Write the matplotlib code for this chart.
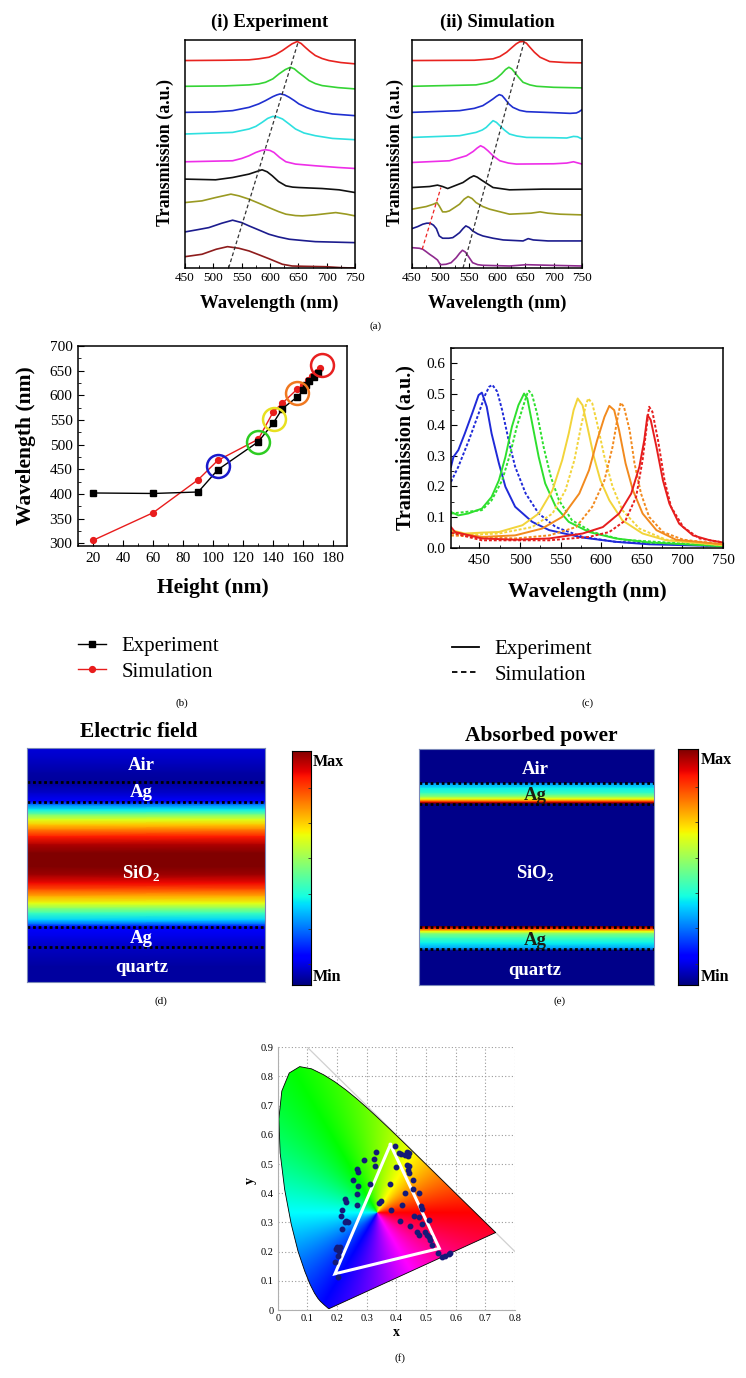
import numpy as np
import matplotlib
matplotlib.use("Agg")
import matplotlib.pyplot as plt
from matplotlib.lines import Line2D
from matplotlib.patches import Polygon
from matplotlib.colors import hsv_to_rgb
from matplotlib.ticker import MultipleLocator

plt.rcParams['font.family'] = ['Liberation Serif', 'DejaVu Serif']
plt.rcParams['mathtext.fontset'] = 'custom'
plt.rcParams['mathtext.rm'] = 'Liberation Serif'
plt.rcParams['mathtext.bf'] = 'Liberation Serif:bold'

W, H = 746, 1378

# ----------------- (a)(i) experiment spectra (stacked, a.u.) -----------------
exp_red_wl = [450, 520, 563, 580, 598, 610, 622, 632, 639, 648, 655, 662, 670, 680, 692, 704, 725, 750]
exp_red_t = [20.7, 20.73, 20.77, 20.87, 21.03, 21.3, 21.7, 22.1, 22.37, 22.6, 22.4, 22.03, 21.63, 21.2, 20.9, 20.7, 20.5, 20.37]
exp_green_wl = [450, 520, 563, 580, 592, 605, 616, 627, 636, 643, 650, 660, 669, 680, 692, 720, 750]
exp_green_t = [18.13, 18.17, 18.27, 18.37, 18.53, 18.87, 19.37, 19.8, 20.03, 19.87, 19.53, 19.1, 18.7, 18.4, 18.2, 18.0, 17.87]
exp_blue_wl = [450, 500, 534, 563, 580, 592, 605, 612, 618, 626, 634, 643, 651, 665, 680, 710, 750]
exp_blue_t = [15.53, 15.57, 15.7, 16.03, 16.37, 16.7, 17.1, 17.27, 17.37, 17.27, 17.03, 16.7, 16.37, 16.0, 15.7, 15.37, 15.2]
exp_cyan_wl = [450, 534, 563, 575, 586, 596, 605, 613, 622, 633, 645, 660, 680, 710, 750]
exp_cyan_t = [13.37, 13.53, 13.87, 14.13, 14.53, 14.93, 15.13, 15.07, 14.87, 14.4, 13.87, 13.47, 13.2, 12.93, 12.8]
exp_magenta_wl = [450, 534, 550, 563, 575, 585, 592, 600, 607, 617, 628, 645, 680, 720, 750]
exp_magenta_t = [10.6, 10.7, 10.93, 11.2, 11.53, 11.73, 11.8, 11.73, 11.53, 11.03, 10.6, 10.37, 10.2, 10.03, 9.93]
exp_black_wl = [450, 504, 534, 563, 575, 586, 595, 604, 615, 628, 640, 651, 692, 722, 750]
exp_black_t = [8.87, 8.8, 9.03, 9.37, 9.6, 9.8, 9.6, 9.2, 8.63, 8.2, 8.07, 8.03, 7.93, 7.8, 7.53]
exp_olive_wl = [450, 480, 504, 531, 545, 563, 580, 598, 615, 628, 645, 657, 680, 700, 716, 735, 750]
exp_olive_t = [6.53, 6.7, 7.03, 7.37, 7.2, 6.87, 6.47, 6.03, 5.63, 5.37, 5.23, 5.2, 5.3, 5.43, 5.53, 5.37, 5.2]
exp_navy_wl = [450, 470, 492, 515, 534, 550, 563, 580, 598, 615, 634, 660, 680, 750]
exp_navy_t = [3.6, 3.8, 4.03, 4.47, 4.77, 4.53, 4.2, 3.8, 3.37, 3.1, 2.87, 2.73, 2.63, 2.53]
exp_maroon_wl = [450, 480, 505, 525, 545, 563, 580, 598, 622, 639, 660, 698, 727, 750]
exp_maroon_t = [1.13, 1.37, 1.87, 2.13, 1.97, 1.7, 1.33, 0.93, 0.37, 0.2, 0.17, 0.13, 0.03, 0.0]
exp_guide_wl = [527, 650]
exp_guide_t = [0.0, 22.6]

# ----------------- (a)(ii) simulated spectra -----------------
sim_red_wl = [450, 560, 593, 605, 617, 627, 634, 640, 646, 652, 658, 666, 676, 693, 720, 750]
sim_red_t = [20.7, 20.73, 20.87, 21.1, 21.53, 22.03, 22.37, 22.57, 22.6, 22.43, 22.03, 21.53, 21.03, 20.6, 20.5, 20.47]
sim_green_wl = [450, 563, 582, 593, 600, 608, 615, 621, 626, 631, 638, 646, 658, 670, 700, 750]
sim_green_t = [18.13, 18.27, 18.47, 18.7, 18.97, 19.37, 19.8, 20.03, 19.87, 19.53, 19.03, 18.53, 18.27, 18.13, 18.03, 17.97]
sim_blue_wl = [450, 534, 560, 575, 586, 593, 599, 604, 609, 614, 621, 628, 640, 652, 700, 729, 740, 745, 750]
sim_blue_t = [15.53, 15.7, 15.93, 16.2, 16.6, 16.87, 17.13, 17.3, 17.2, 16.87, 16.37, 16.03, 15.73, 15.6, 15.5, 15.43, 15.47, 15.6, 15.8]
sim_cyan_wl = [450, 534, 563, 574, 581, 587, 593, 599, 605, 613, 622, 635, 652, 700, 723, 735, 742, 750]
sim_cyan_t = [13.03, 13.2, 13.53, 13.77, 14.03, 14.37, 14.7, 14.53, 14.2, 13.77, 13.37, 13.17, 13.03, 13.0, 12.97, 13.13, 13.1, 12.87]
sim_magenta_wl = [450, 516, 546, 558, 565, 571, 577, 584, 593, 605, 620, 634, 700, 723, 735, 750]
sim_magenta_t = [10.53, 10.7, 11.2, 11.63, 11.97, 12.2, 12.03, 11.7, 11.2, 10.7, 10.47, 10.37, 10.4, 10.47, 10.6, 10.37]
sim_black_wl = [450, 481, 495, 504, 513, 522, 540, 552, 559, 565, 572, 582, 593, 622, 681, 750]
sim_black_t = [8.03, 8.13, 8.27, 8.13, 7.93, 8.13, 8.53, 9.0, 9.2, 9.07, 8.8, 8.43, 8.03, 7.8, 7.87, 7.87]
sim_olive_wl = [450, 475, 488, 494, 498, 504, 510, 516, 525, 534, 542, 549, 556, 563, 575, 587, 622, 660, 676, 690, 711, 750]
sim_olive_t = [5.87, 6.13, 6.37, 6.53, 6.2, 5.6, 5.6, 5.7, 6.03, 6.37, 6.87, 7.13, 6.93, 6.53, 6.13, 5.87, 5.37, 5.47, 5.6, 5.47, 5.37, 5.3]
sim_navy_wl = [450, 460, 469, 476, 482, 488, 493, 498, 504, 515, 522, 528, 534, 540, 545, 551, 557, 566, 575, 593, 611, 646, 655, 664, 690, 750]
sim_navy_t = [3.93, 4.13, 4.37, 4.47, 4.47, 4.27, 3.93, 3.2, 2.97, 2.97, 3.03, 3.27, 3.53, 3.93, 4.2, 4.03, 3.7, 3.4, 3.2, 2.97, 2.8, 2.7, 2.93, 2.8, 2.7, 2.7]
sim_purple_wl = [450, 463, 469, 475, 481, 488, 495, 500, 510, 519, 528, 534, 539, 544, 549, 557, 566, 575, 622, 652, 693, 750]
sim_purple_t = [2.03, 1.97, 1.87, 1.63, 1.37, 1.1, 0.8, 0.33, 0.37, 0.53, 1.03, 1.47, 1.77, 1.6, 1.2, 0.53, 0.33, 0.27, 0.2, 0.33, 0.27, 0.2]
sim_guide_wl = [540, 648]
sim_guide_t = [0.0, 22.6]
sim_guide2_wl = [468, 501]
sim_guide2_t = [1.87, 8.03]

# ----------------- (b) peak wavelength vs height -----------------
height_exp = [20, 60, 90, 103, 130, 140, 146, 156, 160, 162, 164, 167, 170]
peak_exp = [402, 401, 404, 449, 506, 544, 573, 597, 610, 621, 630, 638, 645]
height_sim = [20, 60, 90, 103, 130, 140, 146, 156, 160, 163, 166, 169, 171]
peak_sim = [306, 362, 429, 468, 511, 567, 584, 613, 621, 631, 639, 648, 655]
circle_h = [103, 129.5, 140.5, 156, 172.5]
circle_wl = [456, 506, 552, 604, 662]
circle_colors = ['#1a1acc', '#2ecc22', '#e8e020', '#f07820', '#e82020']

# ----------------- (c) selected spectra -----------------
c_blue_exp_wl = [415, 418, 424, 432, 441, 449, 453, 459, 465, 474, 482, 494, 515, 536, 577, 618, 659, 750]
c_blue_exp_t = [0.264, 0.296, 0.318, 0.372, 0.437, 0.497, 0.505, 0.459, 0.372, 0.275, 0.199, 0.134, 0.085, 0.058, 0.034, 0.02, 0.012, 0.006]
c_blue_sim_wl = [415, 424, 437, 449, 457, 462, 466, 472, 478, 486, 494, 507, 523, 544, 577, 618, 750]
c_blue_sim_t = [0.215, 0.264, 0.35, 0.437, 0.497, 0.524, 0.53, 0.508, 0.448, 0.35, 0.264, 0.177, 0.112, 0.068, 0.036, 0.02, 0.006]
c_green_exp_wl = [415, 424, 436, 453, 465, 474, 482, 490, 498, 505, 509, 515, 523, 531, 544, 560, 585, 618, 659, 750]
c_green_exp_t = [0.117, 0.106, 0.112, 0.128, 0.166, 0.22, 0.296, 0.394, 0.464, 0.502, 0.486, 0.405, 0.296, 0.21, 0.134, 0.085, 0.052, 0.031, 0.018, 0.006]
c_green_sim_wl = [415, 453, 465, 478, 488, 496, 505, 509, 511, 515, 521, 529, 538, 548, 564, 589, 626, 750]
c_green_sim_t = [0.112, 0.123, 0.155, 0.22, 0.307, 0.394, 0.47, 0.502, 0.511, 0.497, 0.437, 0.329, 0.231, 0.155, 0.09, 0.052, 0.027, 0.006]
c_yellow_exp_wl = [415, 432, 453, 474, 503, 523, 540, 552, 560, 566, 571, 577, 583, 591, 599, 610, 626, 651, 680, 750]
c_yellow_exp_t = [0.058, 0.047, 0.05, 0.052, 0.074, 0.112, 0.188, 0.286, 0.372, 0.448, 0.486, 0.464, 0.394, 0.296, 0.22, 0.155, 0.09, 0.047, 0.025, 0.009]
c_yellow_sim_wl = [415, 474, 515, 540, 556, 567, 575, 581, 584, 589, 595, 604, 614, 626, 647, 680, 750]
c_yellow_sim_t = [0.041, 0.047, 0.068, 0.112, 0.188, 0.286, 0.394, 0.464, 0.486, 0.47, 0.405, 0.296, 0.199, 0.123, 0.063, 0.027, 0.009]
c_orange_exp_wl = [415, 453, 494, 527, 552, 573, 585, 595, 604, 610, 616, 622, 630, 639, 651, 668, 692, 750]
c_orange_exp_t = [0.052, 0.036, 0.041, 0.063, 0.101, 0.177, 0.253, 0.35, 0.426, 0.462, 0.448, 0.383, 0.275, 0.188, 0.112, 0.058, 0.027, 0.012]
c_orange_sim_wl = [415, 494, 536, 569, 589, 604, 614, 620, 624, 628, 635, 641, 649, 659, 676, 701, 750]
c_orange_sim_t = [0.041, 0.031, 0.041, 0.068, 0.134, 0.22, 0.329, 0.421, 0.472, 0.459, 0.383, 0.275, 0.177, 0.101, 0.052, 0.027, 0.012]
c_red_exp_wl = [415, 420, 453, 494, 536, 577, 602, 622, 637, 647, 653, 657, 661, 668, 676, 684, 696, 713, 734, 750]
c_red_exp_t = [0.068, 0.052, 0.031, 0.027, 0.031, 0.047, 0.068, 0.112, 0.177, 0.264, 0.35, 0.432, 0.416, 0.329, 0.22, 0.144, 0.079, 0.041, 0.025, 0.018]
c_red_sim_wl = [415, 453, 536, 585, 610, 630, 643, 651, 656, 659, 663, 670, 678, 686, 701, 721, 750]
c_red_sim_t = [0.05, 0.025, 0.025, 0.036, 0.052, 0.09, 0.166, 0.286, 0.394, 0.459, 0.443, 0.35, 0.22, 0.134, 0.068, 0.031, 0.018]

# ----------------- (d)/(e) field profiles (0 = top, 1 = bottom) -----------------
field_depth = [0.0, 0.05, 0.107, 0.143, 0.164, 0.193, 0.229, 0.243, 0.264, 0.286, 0.307, 0.329, 0.35, 0.379, 0.414,
               0.45, 0.507, 0.543, 0.578, 0.607, 0.636, 0.664, 0.686, 0.707, 0.736, 0.757, 0.767, 0.807, 0.85, 0.936, 1.0]
field_val = [0.08, 0.06, 0.035, 0.025, 0.04, 0.07, 0.12, 0.25, 0.36, 0.5, 0.62, 0.7, 0.78, 0.88, 0.96,
             1.0, 1.0, 0.97, 0.9, 0.82, 0.72, 0.63, 0.52, 0.42, 0.33, 0.2, 0.12, 0.09, 0.06, 0.03, 0.03]
power_depth = [0.0, 0.143, 0.148, 0.167, 0.188, 0.205, 0.213, 0.22, 0.226, 0.23, 0.236,
               0.75, 0.753, 0.76, 0.767, 0.774, 0.784, 0.802, 0.823, 0.845, 0.855, 1.0]
power_val = [0.01, 0.01, 0.28, 0.36, 0.42, 0.55, 0.64, 0.76, 0.9, 1.0, 0.01,
             0.01, 1.0, 0.9, 0.76, 0.64, 0.5, 0.42, 0.36, 0.28, 0.01, 0.01]
field_lines = [0.143, 0.231, 0.764, 0.85]
power_lines = [0.145, 0.233, 0.755, 0.849]
layer_names = ['Air', 'Ag', r'SiO$_\mathbf{2}$', 'Ag', 'quartz']

# ----------------- (f) CIE 1931 chromaticity -----------------
locus_x = [0.1741, 0.1733, 0.1726, 0.1714, 0.1689, 0.1644, 0.1566, 0.1440, 0.1355, 0.1241, 0.1096, 0.0913,
           0.0687, 0.0454, 0.0235, 0.0082, 0.0039, 0.0139, 0.0389, 0.0743, 0.1142, 0.1547, 0.1929, 0.2296,
           0.2658, 0.3016, 0.3373, 0.3731, 0.4087, 0.4441, 0.4788, 0.5125, 0.5448, 0.5752, 0.6029, 0.6270,
           0.6658, 0.6915, 0.7079, 0.7190, 0.7260, 0.7300, 0.7334, 0.7347]
locus_y = [0.0050, 0.0048, 0.0048, 0.0051, 0.0069, 0.0109, 0.0177, 0.0297, 0.0399, 0.0578, 0.0868, 0.1327,
           0.2007, 0.2950, 0.4127, 0.5384, 0.6548, 0.7502, 0.8120, 0.8338, 0.8262, 0.8059, 0.7816, 0.7543,
           0.7243, 0.6923, 0.6589, 0.6245, 0.5896, 0.5547, 0.5202, 0.4866, 0.4544, 0.4242, 0.3965, 0.3725,
           0.3340, 0.3083, 0.2920, 0.2809, 0.2740, 0.2700, 0.2666, 0.2653]
cie_edge_x = [0.1, 0.8]
cie_edge_y = [0.9, 0.2]
white_point = (1 / 3, 1 / 3)
cie_xticks = [0, 0.1, 0.2, 0.3, 0.4, 0.5, 0.6, 0.7, 0.8]
cie_yticks = [0, 0.1, 0.2, 0.3, 0.4, 0.5, 0.6, 0.7, 0.8, 0.9]
dots_x = [0.397, 0.41, 0.417, 0.436, 0.444, 0.439, 0.43, 0.332, 0.326, 0.29, 0.327, 0.399, 0.436, 0.444, 0.439,
          0.444, 0.267, 0.271, 0.254, 0.312, 0.378, 0.271, 0.455, 0.43, 0.455, 0.475, 0.268, 0.226, 0.23, 0.349,
          0.341, 0.267, 0.419, 0.483, 0.487, 0.381, 0.217, 0.213, 0.23, 0.236, 0.226, 0.217, 0.459, 0.475, 0.509,
          0.411, 0.447, 0.487, 0.47, 0.475, 0.498, 0.503, 0.509, 0.515, 0.52, 0.2, 0.211, 0.197, 0.208, 0.203,
          0.194, 0.203, 0.54, 0.554, 0.565, 0.577, 0.582]
dots_y = [0.562, 0.539, 0.534, 0.542, 0.539, 0.528, 0.531, 0.542, 0.516, 0.514, 0.494, 0.491, 0.497, 0.493, 0.48,
          0.47, 0.482, 0.473, 0.445, 0.432, 0.432, 0.426, 0.445, 0.402, 0.413, 0.4, 0.396, 0.38, 0.369, 0.374,
          0.365, 0.359, 0.361, 0.358, 0.345, 0.343, 0.343, 0.323, 0.306, 0.3, 0.303, 0.279, 0.323, 0.32, 0.308,
          0.306, 0.288, 0.295, 0.268, 0.257, 0.268, 0.257, 0.249, 0.24, 0.223, 0.217, 0.217, 0.208, 0.203, 0.185,
          0.166, 0.112, 0.196, 0.183, 0.185, 0.192, 0.194]
triangle_x = [0.38, 0.193, 0.545]
triangle_y = [0.567, 0.124, 0.211]


fig = plt.figure(figsize=(W / 100, H / 100), dpi=100)


def px_axes(l, t, r, b):
    return fig.add_axes([l / W, 1 - b / H, (r - l) / W, (b - t) / H])


def px_text(x, y, s, **kw):
    kw.setdefault('ha', 'center')
    kw.setdefault('va', 'center')
    fig.text(x / W, 1 - y / H, s, **kw)


def style_box(ax, lw=1.1):
    for sp in ax.spines.values():
        sp.set_linewidth(lw)


# ----------------- (a) -----------------
def spectra_panel(l, t, r, b, curves, guides, title, ylab_x, xlab_x):
    ax = px_axes(l, t, r, b)
    for wl, tr, c in curves:
        ax.plot(wl, tr, color=c, lw=1.2)
    for wl, tr, c in guides:
        ax.plot(wl, tr, color=c, lw=0.9, ls=(0, (3, 2)))
    ax.set_xlim(450, 750)
    ax.set_ylim(0, 22.8)
    ax.set_yticks([])
    ax.xaxis.set_major_locator(MultipleLocator(50))
    ax.xaxis.set_minor_locator(MultipleLocator(25))
    ax.tick_params(axis='x', which='major', direction='in', length=3.5, labelsize=9.5, pad=3)
    ax.tick_params(axis='x', which='minor', direction='in', length=2)
    style_box(ax)
    px_text((l + r) / 2, 22, title, fontsize=13.5, fontweight='bold')
    px_text(ylab_x, 153, 'Transmission (a.u.)', fontsize=13, fontweight='bold', rotation=90)
    px_text(xlab_x, 303, 'Wavelength (nm)', fontsize=13.5, fontweight='bold')


spectra_panel(185, 39.5, 355, 268,
              [(exp_red_wl, exp_red_t, '#e8231f'), (exp_green_wl, exp_green_t, '#35d435'),
               (exp_blue_wl, exp_blue_t, '#1f2fd0'), (exp_cyan_wl, exp_cyan_t, '#2ee0e0'),
               (exp_magenta_wl, exp_magenta_t, '#ee2ee8'), (exp_black_wl, exp_black_t, '#111111'),
               (exp_olive_wl, exp_olive_t, '#9a9a22'), (exp_navy_wl, exp_navy_t, '#1c1c8e'),
               (exp_maroon_wl, exp_maroon_t, '#8e1c1c')],
              [(exp_guide_wl, exp_guide_t, '#333333')],
              '(i) Experiment', 165, 269)
spectra_panel(412, 39.5, 582, 268,
              [(sim_red_wl, sim_red_t, '#e8231f'), (sim_green_wl, sim_green_t, '#35d435'),
               (sim_blue_wl, sim_blue_t, '#1f2fd0'), (sim_cyan_wl, sim_cyan_t, '#2ee0e0'),
               (sim_magenta_wl, sim_magenta_t, '#ee2ee8'), (sim_black_wl, sim_black_t, '#111111'),
               (sim_olive_wl, sim_olive_t, '#9a9a22'), (sim_navy_wl, sim_navy_t, '#1c1c8e'),
               (sim_purple_wl, sim_purple_t, '#8e2a8e')],
              [(sim_guide_wl, sim_guide_t, '#333333'), (sim_guide2_wl, sim_guide2_t, '#ee2222')],
              '(ii) Simulation', 395, 497)
px_text(376, 326, '(a)', fontsize=8)

# ----------------- (b) -----------------
axb = px_axes(78, 346, 347, 546)
axb.plot(height_exp, peak_exp, color='k', lw=1, marker='s', ms=3.8, label='Experiment', zorder=3)
axb.plot(height_sim, peak_sim, color='#e81c1c', lw=1, marker='o', ms=4.2, label='Simulation', zorder=2)
for hh, ww, cc in zip(circle_h, circle_wl, circle_colors):
    axb.plot(hh, ww, marker='o', ms=16.5, mfc='none', mec=cc, mew=1.8, zorder=4)
axb.set_xlim(10, 189)
axb.set_ylim(294.5, 700)
axb.xaxis.set_major_locator(MultipleLocator(20))
axb.xaxis.set_minor_locator(MultipleLocator(10))
axb.yaxis.set_major_locator(MultipleLocator(50))
axb.yaxis.set_minor_locator(MultipleLocator(25))
axb.tick_params(which='major', direction='in', length=4, labelsize=11, pad=4)
axb.tick_params(which='minor', direction='in', length=2)
style_box(axb)
px_text(26, 446, 'Wavelength (nm)', fontsize=15.5, fontweight='bold', rotation=90)
px_text(213, 588, 'Height (nm)', fontsize=15.5, fontweight='bold')
axb.legend(loc='center left', bbox_to_anchor=(78 / W, 1 - 659 / H), bbox_transform=fig.transFigure,
           frameon=False, fontsize=15, handlelength=1.35, handletextpad=0.75, labelspacing=0.3,
           borderpad=0, borderaxespad=0)
px_text(182, 703, '(b)', fontsize=8)

# ----------------- (c) -----------------
axc = px_axes(451, 348, 723, 548)
c_series = [(c_blue_exp_wl, c_blue_exp_t, c_blue_sim_wl, c_blue_sim_t, '#1f2ad8'),
            (c_green_exp_wl, c_green_exp_t, c_green_sim_wl, c_green_sim_t, '#2ee02e'),
            (c_yellow_exp_wl, c_yellow_exp_t, c_yellow_sim_wl, c_yellow_sim_t, '#f2d43a'),
            (c_orange_exp_wl, c_orange_exp_t, c_orange_sim_wl, c_orange_sim_t, '#f28a1e'),
            (c_red_exp_wl, c_red_exp_t, c_red_sim_wl, c_red_sim_t, '#e61e1e')]
for ew, et, sw, st, col in c_series:
    axc.plot(ew, et, color=col, lw=1.4)
    axc.plot(sw, st, color=col, lw=1.4, ls=(0, (1.5, 1)))
axc.set_xlim(415, 750)
axc.set_ylim(0, 0.65)
axc.xaxis.set_major_locator(MultipleLocator(50))
axc.xaxis.set_minor_locator(MultipleLocator(25))
axc.yaxis.set_major_locator(MultipleLocator(0.1))
axc.yaxis.set_minor_locator(MultipleLocator(0.05))
axc.yaxis.set_major_formatter(plt.FormatStrFormatter('%.1f'))
axc.tick_params(which='major', direction='in', length=4, labelsize=11, pad=4)
axc.tick_params(which='minor', direction='in', length=2)
style_box(axc)
px_text(405, 448, 'Transmission (a.u.)', fontsize=14.5, fontweight='bold', rotation=90)
px_text(587, 592, 'Wavelength (nm)', fontsize=15.5, fontweight='bold')
c_handles = [Line2D([], [], color='k', lw=1.3), Line2D([], [], color='k', lw=1.3, ls=(0, (3, 2)))]
axc.legend(c_handles, ['Experiment', 'Simulation'], loc='center left',
           bbox_to_anchor=(452 / W, 1 - 662 / H), bbox_transform=fig.transFigure,
           frameon=False, fontsize=15, handlelength=1.3, handletextpad=0.75, labelspacing=0.3,
           borderpad=0, borderaxespad=0)
px_text(588, 703, '(c)', fontsize=8)


# ----------------- (d)/(e) -----------------
def layer_panel(box, cbox, depth, vals, lines, label_pos, ag_color, title, title_xy):
    ax = px_axes(*box)
    X, Y = np.meshgrid([0, 1], np.asarray(depth))
    v = np.asarray(vals)
    ax.pcolormesh(X, Y, np.column_stack([v, v]), shading='gouraud', cmap='jet', vmin=0, vmax=1)
    for d in lines:
        ax.axhline(d, color='k', lw=2.0, ls=(0, (1, 1)))
    ax.set_xlim(0, 1)
    ax.set_ylim(1, 0)
    ax.set_xticks([])
    ax.set_yticks([])
    for sp in ax.spines.values():
        sp.set_color('#7a88b8')
        sp.set_linewidth(0.8)
    for name, (xx, dd) in zip(layer_names, label_pos):
        col = ag_color if name == 'Ag' else 'white'
        ax.text(xx, dd, name, color=col, fontsize=13.5, fontweight='bold', ha='center', va='center')
    cax = px_axes(*cbox)
    cax.imshow(np.linspace(0, 1, 256)[:, None], cmap='jet', aspect='auto', origin='lower', extent=(0, 1, 0, 1))
    cax.set_xticks([])
    cax.set_yticks([0.09, 0.24, 0.39, 0.54, 0.69, 0.84])
    cax.yaxis.tick_right()
    cax.tick_params(axis='y', direction='in', length=2.5, width=0.6, labelright=False, color='#333333')
    for sp in cax.spines.values():
        sp.set_linewidth(0.8)
    px_text(cbox[2] + 2, cbox[1] + 11, 'Max', fontsize=11.5, fontweight='bold', ha='left')
    px_text(cbox[2] + 2, cbox[3] - 8, 'Min', fontsize=11.5, fontweight='bold', ha='left')
    px_text(title_xy[0], title_xy[1], title, fontsize=15.5, fontweight='bold')


layer_panel((27.3, 748.3, 265, 981.7), (291.7, 750.7, 310.7, 985), field_depth, field_val, field_lines,
            [(0.48, 0.072), (0.48, 0.189), (0.48, 0.536), (0.48, 0.814), (0.48, 0.94)],
            'white', 'Electric field', (139, 732))
layer_panel((419, 749, 654, 985), (678.3, 749.3, 698.3, 985), power_depth, power_val, power_lines,
            [(0.494, 0.086), (0.494, 0.195), (0.494, 0.527), (0.494, 0.81), (0.494, 0.94)],
            '#1c1c10', 'Absorbed power', (541, 736))
px_text(161, 1001, '(d)', fontsize=8)
px_text(560, 1001, '(e)', fontsize=8)

# ----------------- (f) -----------------
axf = px_axes(277.7, 1047.3, 515, 1310)
axf.set_xticks(cie_xticks)
axf.set_yticks(cie_yticks)
axf.set_xticklabels(['%g' % v for v in cie_xticks])
axf.set_yticklabels(['%g' % v for v in cie_yticks])
axf.set_xlim(0, 0.8)
axf.set_ylim(0, 0.9)
axf.grid(True, color='#9a9a9a', ls=(0, (1, 2)), lw=0.8, zorder=0)
axf.set_axisbelow(True)
axf.plot(cie_edge_x, cie_edge_y, color='#d0d0d0', lw=0.9, zorder=0.8)
gx, gy = np.meshgrid(np.linspace(0, 0.8, 480), np.linspace(0, 0.9, 540))
hue = (np.degrees(np.arctan2(gy - white_point[1], gx - white_point[0])) % 360) / 360
rgb = hsv_to_rgb(np.stack([hue, np.ones_like(hue), np.ones_like(hue)], axis=-1))
im = axf.imshow(rgb, extent=(0, 0.8, 0, 0.9), origin='lower', aspect='auto', zorder=1)
locus = Polygon(np.column_stack([locus_x, locus_y]), closed=True, facecolor='none',
                edgecolor='k', lw=0.6, zorder=2, transform=axf.transData)
axf.add_patch(locus)
im.set_clip_path(locus)
axf.plot(triangle_x + triangle_x[:1], triangle_y + triangle_y[:1], color='white', lw=2.2,
         solid_joinstyle='miter', zorder=3)
axf.plot(dots_x, dots_y, 'o', color='#141a78', ms=3.2, zorder=4)
axf.tick_params(length=0, labelsize=7.5, pad=3)
for side in ['top', 'right']:
    axf.spines[side].set_visible(False)
for side in ['left', 'bottom']:
    axf.spines[side].set_color('#b0b0b0')
    axf.spines[side].set_linewidth(0.8)
px_text(396, 1333, 'x', fontsize=10, fontweight='bold')
px_text(250, 1180, 'y', fontsize=10, fontweight='bold', rotation=90)
px_text(400, 1358, '(f)', fontsize=8)

fig.savefig('out.png', dpi=100)
